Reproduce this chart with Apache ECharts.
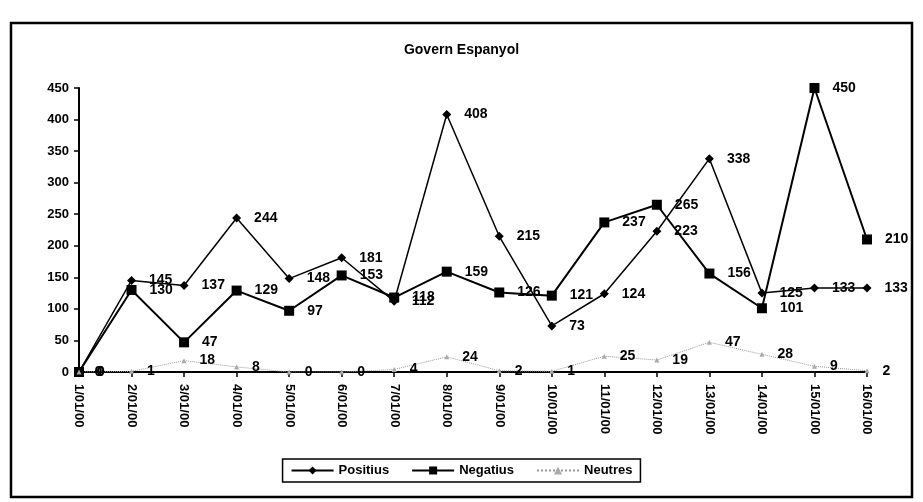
<!DOCTYPE html>
<html>
<head>
  <meta charset="utf-8">
  <title>Govern Espanyol</title>
  <script src="https://cdn.jsdelivr.net/npm/echarts@6/dist/echarts.min.js"></script>
  <style>
    html, body { margin: 0; padding: 0; background: #fff; }
    #chart { width: 923px; height: 502px; }
  </style>
</head>
<body>
  <div id="chart"></div>
  <script>
    // dies
    var dates = ['1/01/00', '2/01/00', '3/01/00', '4/01/00', '5/01/00', '6/01/00', '7/01/00', '8/01/00',
                 '9/01/00', '10/01/00', '11/01/00', '12/01/00', '13/01/00', '14/01/00', '15/01/00', '16/01/00'];
    var positius = [0, 145, 137, 244, 148, 181, 112, 408, 215, 73, 124, 223, 338, 125, 133, 133];
    var negatius = [0, 130, 47, 129, 97, 153, 118, 159, 126, 121, 237, 265, 156, 101, 450, 210];
    var neutres  = [0, 1, 18, 8, 0, 0, 4, 24, 2, 1, 25, 19, 47, 28, 9, 2];
    var yTicks = [0, 50, 100, 150, 200, 250, 300, 350, 400, 450];

    var font = '"Liberation Sans", Arial, sans-serif';
    var lbl = {
      show: true,
      position: 'right',
      distance: 13,
      color: '#000',
      fontFamily: font,
      fontWeight: 'bold',
      fontSize: 14
    };

    var chart = echarts.init(document.getElementById('chart'));
    chart.setOption({
      animation: false,
      backgroundColor: '#fff',
      title: {
        text: 'Govern Espanyol',
        left: 'center',
        top: 38,
        textStyle: { fontFamily: font, fontWeight: 'bold', fontSize: 14, color: '#000' }
      },
      graphic: [{
        type: 'rect',
        shape: { x: 11, y: 23, width: 901, height: 474 },
        style: { fill: 'none', stroke: '#000', lineWidth: 2.5 },
        silent: true
      }],
      legend: {
        bottom: 20,
        left: 'center',
        itemGap: 22,
        itemWidth: 42,
        itemHeight: 10,
        padding: [5, 8],
        borderColor: '#000',
        borderWidth: 1.5,
        textStyle: { fontFamily: font, fontWeight: 'bold', fontSize: 13, color: '#000' },
        data: ['Positius', 'Negatius', 'Neutres']
      },
      grid: { left: 79, right: 56, top: 88, bottom: 130 },
      xAxis: {
        type: 'category',
        boundaryGap: false,
        data: dates,
        axisLine: { lineStyle: { color: '#000', width: 2 } },
        axisTick: { show: true, length: 5, lineStyle: { color: '#000', width: 1.5 } },
        axisLabel: {
          rotate: -90,
          margin: 12,
          color: '#000',
          fontFamily: font,
          fontWeight: 'bold',
          fontSize: 13,
          interval: 0
        }
      },
      yAxis: {
        type: 'value',
        min: 0,
        max: yTicks[yTicks.length - 1],
        interval: yTicks[1] - yTicks[0],
        splitLine: { show: false },
        axisLine: { show: true, lineStyle: { color: '#000', width: 2 } },
        axisTick: { show: true, length: 5, lineStyle: { color: '#000', width: 1.5 } },
        axisLabel: {
          margin: 10,
          color: '#000',
          fontFamily: font,
          fontWeight: 'bold',
          fontSize: 13
        }
      },
      series: [
        {
          name: 'Positius',
          type: 'line',
          data: positius,
          symbol: 'diamond',
          symbolSize: 9,
          itemStyle: { color: '#000' },
          lineStyle: { color: '#000', width: 1.5 },
          label: lbl
        },
        {
          name: 'Negatius',
          type: 'line',
          data: negatius,
          symbol: 'rect',
          symbolSize: 10,
          itemStyle: { color: '#000' },
          lineStyle: { color: '#000', width: 2 },
          label: lbl
        },
        {
          name: 'Neutres',
          type: 'line',
          data: neutres,
          symbol: 'triangle',
          symbolSize: 5,
          itemStyle: { color: '#aaa' },
          lineStyle: { color: '#999', width: 1, type: 'dotted' },
          label: lbl
        }
      ]
    });
  </script>
</body>
</html>
